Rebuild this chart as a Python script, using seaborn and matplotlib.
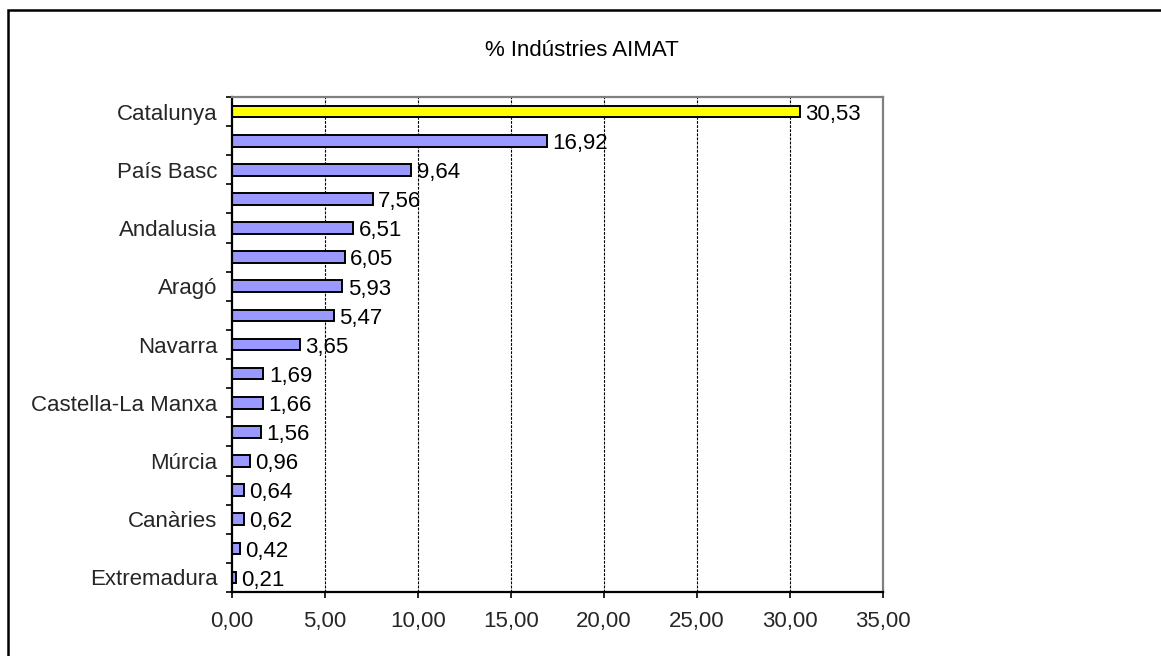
import matplotlib
matplotlib.use("Agg")
import matplotlib.pyplot as plt
from matplotlib.patches import Rectangle
from matplotlib.ticker import FixedLocator, FuncFormatter
import seaborn as sns
import pandas as pd

regions = [
    "Catalunya", "Comunitat Valenciana", "País Basc", "Madrid", "Andalusia",
    "Galícia", "Aragó", "Castella i Lleó", "Navarra", "Astúries",
    "Castella-La Manxa", "Cantàbria", "Múrcia", "La Rioja", "Canàries",
    "Illes Balears", "Extremadura",
]
percent = [30.53, 16.92, 9.64, 7.56, 6.51, 6.05, 5.93, 5.47, 3.65, 1.69,
           1.66, 1.56, 0.96, 0.64, 0.62, 0.42, 0.21]
highlight = "Catalunya"
x_ticks = [0, 5, 10, 15, 20, 25, 30, 35]

df = pd.DataFrame({"regio": regions, "pct": percent})
colors = {r: ("#FFFF00" if r == highlight else "#9999FF") for r in regions}

sns.set_theme(style="white")
plt.rcParams["font.family"] = ["Liberation Sans", "DejaVu Sans"]

FS = 16
W, H = 1161, 656
fig = plt.figure(figsize=(W / 100, H / 100), dpi=100)
ax = fig.add_axes([232 / W, 1 - 592 / H, (883 - 232) / W, (592 - 97) / H])

sns.barplot(data=df, y="regio", x="pct", hue="regio", palette=colors,
            orient="h", width=0.4, saturation=1, edgecolor="black",
            linewidth=1.4, legend=False, ax=ax)

ax.set_xlim(0, 35)
ax.set_ylim(len(regions) - 0.5, -0.5)
ax.set_xlabel("")
ax.set_ylabel("")

# x axis
ax.xaxis.set_major_locator(FixedLocator(x_ticks))
ax.xaxis.set_major_formatter(FuncFormatter(lambda v, p: f"{v:.2f}".replace(".", ",")))
ax.tick_params(axis="x", which="major", direction="out", length=4.5, width=1.2,
               color="black", pad=9, labelsize=FS, bottom=True)

# y axis: labels on every other category, tick marks between categories
ax.set_yticks(range(len(regions)))
ax.set_yticklabels([r if i % 2 == 0 else "" for i, r in enumerate(regions)])
ax.tick_params(axis="y", which="major", length=0, pad=10.5, labelsize=FS)
ax.yaxis.set_minor_locator(FixedLocator([i - 0.5 for i in range(len(regions) + 1)]))
ax.tick_params(axis="y", which="minor", direction="out", length=4.5, width=1.2,
               color="black", left=True)

# dashed vertical gridlines
for xv in x_ticks[1:-1]:
    ax.axvline(xv, color="black", linewidth=0.8, linestyle=(0, (2.5, 1.2)), zorder=0)

for side in ("left", "bottom"):
    ax.spines[side].set_color("black")
    ax.spines[side].set_linewidth(1.6)
for side in ("top", "right"):
    ax.spines[side].set_color("#808080")
    ax.spines[side].set_linewidth(1.6)

# value labels
for i, v in enumerate(percent):
    ax.annotate(f"{v:.2f}".replace(".", ","), xy=(v, i), xytext=(4, -2),
                textcoords="offset points", va="center", ha="left",
                fontsize=FS, color="black")

fig.text(582 / W, 1 - 50 / H, "% Indústries AIMAT", ha="center", va="center",
         fontsize=FS, color="black")

# chart area frame
fig.patches.append(Rectangle((8 / W, -0.05), 1.1, 1 - 10 / H + 0.05,
                             transform=fig.transFigure, fill=False,
                             edgecolor="black", linewidth=1.8))

fig.savefig("out.png", dpi=100, facecolor="white")
